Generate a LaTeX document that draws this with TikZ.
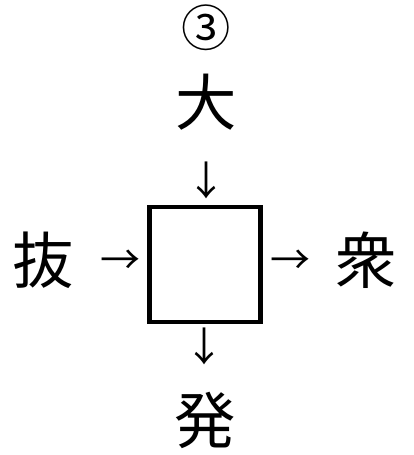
\documentclass[tikz,border=0pt]{standalone}
\usepackage{fontspec}
\newfontfamily\jp{Noto Sans CJK JP}
\begin{document}
\begin{tikzpicture}[x=0.75pt,y=-0.75pt,
  kanji/.style={font=\jp\fontsize{46pt}{46pt}\selectfont, inner sep=0pt, anchor=center},
  arr/.style={font=\jp\fontsize{30pt}{30pt}\selectfont, inner sep=0pt, anchor=center},
  num/.style={font=\jp\fontsize{37pt}{37pt}\selectfont, inner sep=0pt, anchor=center},
  box/.style={draw=black, line width=3.7pt, minimum width=83.25pt, minimum height=86.25pt, inner sep=0pt}]
\useasboundingbox (0,0) rectangle (414,455);
\node[num] (n) at (206,28) {③};
\node[kanji] (top) at (206,102) {大};
\node[arr] (ad) at (206,180) {↓};
\node[box] (b) at (205,264.5) {};
\node[kanji] (left) at (43.5,260) {抜};
\node[arr] (al) at (120,262) {→};
\node[arr] (ar) at (291,262) {→};
\node[kanji] (right) at (366,260) {衆};
\node[arr] (ab) at (205,346) {↓};
\node[kanji] (bot) at (205,420) {発};
\end{tikzpicture}
\end{document}
